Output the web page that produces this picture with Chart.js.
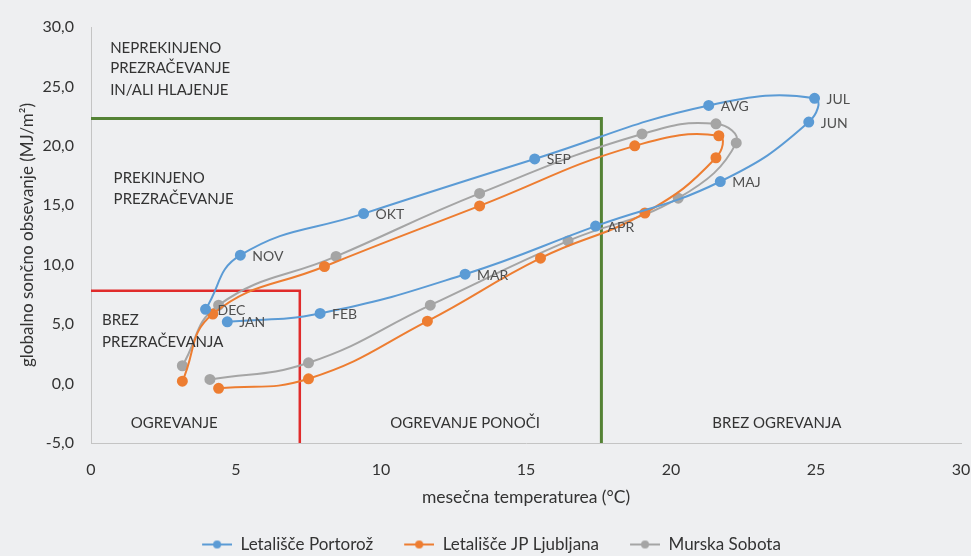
<!DOCTYPE html>
<html lang="sl">
<head>
<meta charset="UTF-8">
<title>Sončno obsevanje in temperatura</title>
<script src="https://cdn.jsdelivr.net/npm/chart.js@4.4.1/dist/chart.umd.min.js"></script>
<style>
  body { margin: 0; padding: 0; background: #eeeff1; }
  #wrap { width: 971px; height: 556px; }
</style>
</head>
<body>
<div id="wrap"><canvas id="myChart" width="971" height="556"></canvas></div>
<script>
// months (labels are shown next to the Portoroz points)
const months = ['JAN','FEB','MAR','APR','MAJ','JUN','JUL','AVG','SEP','OKT','NOV','DEC'];

// mean monthly temperature (°C) and global solar radiation (MJ/m2)
const portorozT = [4.7, 7.9, 12.9, 17.4, 21.7, 24.75, 24.95, 21.3, 15.3, 9.4, 5.15, 3.95];
const portorozG = [5.2, 5.9, 9.2, 13.25, 17.0, 22.0, 24.0, 23.4, 18.9, 14.3, 10.8, 6.25];

const ljubljanaT = [4.4, 7.5, 11.6, 15.5, 19.1, 21.55, 21.65, 18.75, 13.4, 8.05, 4.2, 3.15];
const ljubljanaG = [-0.4, 0.4, 5.25, 10.55, 14.35, 19.0, 20.85, 20.0, 14.95, 9.85, 5.85, 0.2];

const sobotaT = [4.1, 7.5, 11.7, 16.45, 20.25, 22.25, 21.55, 19.0, 13.4, 8.45, 4.4, 3.15];
const sobotaG = [0.35, 1.75, 6.6, 12.0, 15.6, 20.25, 21.85, 21.0, 16.0, 10.7, 6.6, 1.5];

// zone borders
const ventBorderT = [0, 17.6, 17.6];
const ventBorderG = [22.3, 22.3, -5];
const noVentBorderT = [0, 7.2, 7.2];
const noVentBorderG = [7.8, 7.8, -5];

const xTicks = [0, 5, 10, 15, 20, 25, 30];
const yTicks = [-5, 0, 5, 10, 15, 20, 25, 30];

function pts(xs, ys) {
    return xs.map((x, i) => ({ x: x, y: ys[i] }));
}

// legend marker: line with a dot, some empty room on the left as item gap
function legendIcon(color) {
    const c = document.createElement('canvas');
    c.width = 42; c.height = 10;
    const g = c.getContext('2d');
    g.strokeStyle = color; g.lineWidth = 2;
    g.beginPath(); g.moveTo(12, 5); g.lineTo(42, 5); g.stroke();
    g.fillStyle = color;
    g.beginPath(); g.arc(27, 5, 4, 0, Math.PI * 2); g.fill();
    return c;
}

const FONT = 'Lato, "Open Sans", sans-serif';
const TEXT = '#333333';

function series(label, xs, ys, color) {
    return {
        label: label,
        data: pts(xs, ys),
        showLine: true,
        borderColor: color,
        backgroundColor: color,
        borderWidth: 2,
        pointRadius: 4.5,
        pointHoverRadius: 4.5,
        tension: 0.45,
        icon: legendIcon(color)
    };
}

function border(xs, ys, color, w) {
    return {
        label: '',
        data: pts(xs, ys),
        showLine: true,
        borderColor: color,
        borderWidth: w,
        pointRadius: 0,
        tension: 0,
        isBorder: true
    };
}

// zone captions, in data coordinates
const zoneText = [
    { x: 0.66, y: 28.25, t: 'NEPREKINJENO', align: 'left' },
    { x: 0.66, y: 26.5, t: 'PREZRAČEVANJE', align: 'left' },
    { x: 0.66, y: 24.7, t: 'IN/ALI HLAJENJE', align: 'left' },
    { x: 0.78, y: 17.3, t: 'PREKINJENO', align: 'left' },
    { x: 0.78, y: 15.55, t: 'PREZRAČEVANJE', align: 'left' },
    { x: 0.38, y: 5.3, t: 'BREZ', align: 'left' },
    { x: 0.38, y: 3.5, t: 'PREZRAČEVANJA', align: 'left' },
    { x: 2.87, y: -3.35, t: 'OGREVANJE', align: 'center' },
    { x: 12.9, y: -3.35, t: 'OGREVANJE PONOČI', align: 'center' },
    { x: 23.65, y: -3.35, t: 'BREZ OGREVANJA', align: 'center' }
];

const textPlugin = {
    id: 'texts',
    afterDatasetsDraw(chart) {
        const ctx = chart.ctx;
        const xs = chart.scales.x, ys = chart.scales.y;
        ctx.save();
        ctx.fillStyle = TEXT;
        ctx.textBaseline = 'middle';
        ctx.font = '15px ' + FONT;
        zoneText.forEach(z => {
            ctx.textAlign = z.align;
            ctx.fillText(z.t, xs.getPixelForValue(z.x), ys.getPixelForValue(z.y));
        });
        // month names beside Portoroz points
        ctx.font = '14px ' + FONT;
        ctx.fillStyle = '#505050';
        ctx.textAlign = 'left';
        const meta = chart.getDatasetMeta(0);
        meta.data.forEach((p, i) => {
            ctx.fillText(months[i], p.x + 12, p.y + 1);
        });
        ctx.restore();
    }
};

const ctx = document.getElementById('myChart').getContext('2d');
const myChart = new Chart(ctx, {
    type: 'scatter',
    data: {
        datasets: [
            series('Letališče Portorož', portorozT, portorozG, '#5b9bd5'),
            series('Letališče JP Ljubljana', ljubljanaT, ljubljanaG, '#ed7d31'),
            series('Murska Sobota', sobotaT, sobotaG, '#a5a5a5'),
            border(ventBorderT, ventBorderG, '#548235', 3),
            border(noVentBorderT, noVentBorderG, '#e02b2b', 2.5)
        ]
    },
    options: {
        responsive: false,
        animation: false,
        layout: { padding: { top: 27, right: 0, left: 0, bottom: -7 } },
        plugins: {
            tooltip: { enabled: false },
            legend: {
                position: 'bottom',
                labels: {
                    font: { size: 17, family: FONT },
                    color: TEXT,
                    usePointStyle: true,
                    pointStyleWidth: 42,
                    padding: 19,
                    generateLabels(chart) {
                        return chart.data.datasets
                            .map((d, i) => ({ d, i }))
                            .filter(o => !o.d.isBorder)
                            .map(o => ({
                                text: o.d.label,
                                pointStyle: o.d.icon,
                                fillStyle: o.d.borderColor,
                                strokeStyle: o.d.borderColor,
                                lineWidth: 0,
                                fontColor: TEXT,
                                datasetIndex: o.i
                            }));
                    }
                }
            }
        },
        scales: {
            x: {
                type: 'linear',
                min: 0, max: 30,
                afterBuildTicks: s => { s.ticks = xTicks.map(v => ({ value: v })); },
                afterFit: s => { s.height = 74; s.paddingRight = 10; },
                grid: { display: false },
                border: { display: true, color: '#c4c4c4', width: 1 },
                ticks: { font: { size: 16, family: FONT }, color: TEXT, padding: 9 },
                title: {
                    display: true,
                    text: 'mesečna temperaturea (°C)',
                    font: { size: 17.5, family: FONT },
                    color: TEXT,
                    padding: { top: 4, bottom: 9 }
                }
            },
            y: {
                type: 'linear',
                min: -5, max: 30,
                afterBuildTicks: s => { s.ticks = yTicks.map(v => ({ value: v })); },
                afterFit: s => { s.width = 91; },
                grid: { display: false },
                border: { display: true, color: '#c4c4c4', width: 1 },
                ticks: {
                    font: { size: 16, family: FONT },
                    color: TEXT,
                    padding: 9,
                    callback: v => v.toFixed(1).replace('.', ',')
                },
                title: {
                    display: true,
                    text: 'globalno sončno obsevanje (MJ/m²)',
                    font: { size: 17, family: FONT },
                    color: TEXT,
                    padding: { top: 17, bottom: 4 }
                }
            }
        }
    },
    plugins: [textPlugin]
});
</script>
</body>
</html>
